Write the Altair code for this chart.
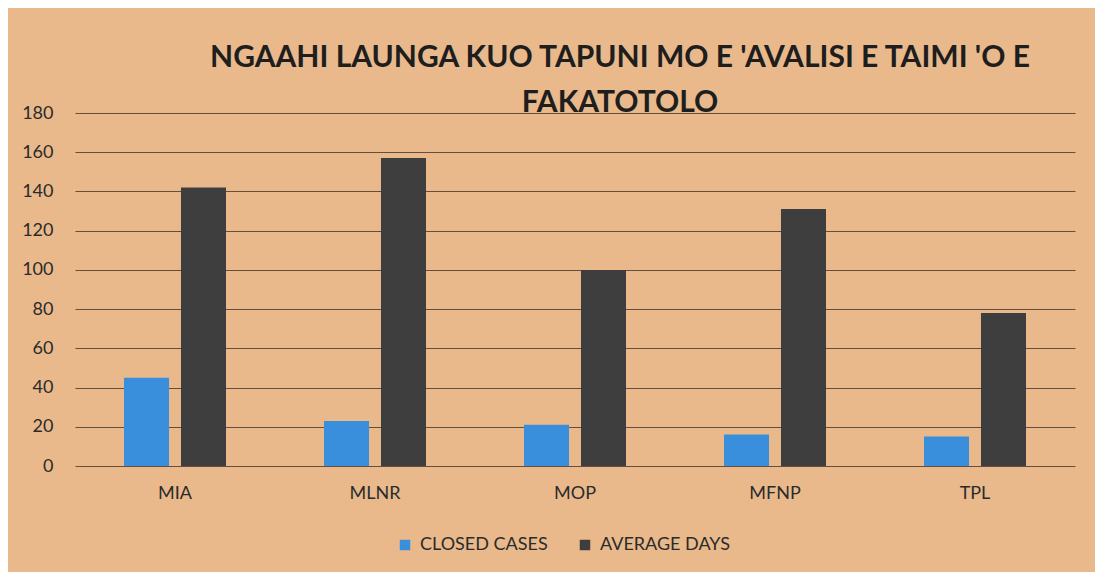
import altair as alt
import pandas as pd

categories = ["MIA", "MLNR", "MOP", "MFNP", "TPL"]
closed_cases = [45, 23, 21, 16, 15]
average_days = [142, 157, 100, 131, 78]
series_names = ["CLOSED CASES", "AVERAGE DAYS"]
y_ticks = [0, 20, 40, 60, 80, 100, 120, 140, 160, 180]

rows = []
for c, a, b in zip(categories, closed_cases, average_days):
    rows.append({"cat": c, "series": series_names[0], "value": a})
    rows.append({"cat": c, "series": series_names[1], "value": b})
df = pd.DataFrame(rows)

BG = "#E9B98C"
FONT = "Lato"

chart = alt.Chart(df).mark_bar().encode(
    x=alt.X("cat:N", sort=categories,
            scale=alt.Scale(paddingInner=0.49, paddingOuter=0.245),
            axis=alt.Axis(title=None, labelAngle=0, labelFontSize=18, labelColor="#2b2b2b",
                          labelFont=FONT, ticks=False, domain=False, labelPadding=18)),
    xOffset=alt.XOffset("series:N", sort=series_names,
                        scale=alt.Scale(paddingInner=0.21, paddingOuter=0)),
    y=alt.Y("value:Q", scale=alt.Scale(domain=[0, 180], nice=False),
            axis=alt.Axis(title=None, values=y_ticks, labelFontSize=18, labelColor="#2b2b2b",
                          labelFont=FONT, ticks=False, domain=False, labelPadding=22,
                          grid=True, gridColor="#4a3c30", gridWidth=1.2, gridOpacity=0.85)),
    color=alt.Color("series:N", sort=series_names,
                    scale=alt.Scale(domain=series_names, range=["#3A8FDC", "#3E3E3E"]),
                    legend=alt.Legend(title=None, orient="none", direction="horizontal",
                                      legendX=321, legendY=423, symbolType="square",
                                      symbolSize=110, symbolStrokeWidth=0,
                                      labelFontSize=18, labelFont=FONT, labelColor="#2b2b2b",
                                      columnPadding=28, labelOffset=6)),
).properties(
    width=1000,
    height=353,
    title=alt.TitleParams(
        text=["NGAAHI LAUNGA KUO TAPUNI MO E 'AVALISI E TAIMI 'O E", "FAKATOTOLO"],
        fontSize=30, font=FONT, fontWeight="bold", color="#1e1e1e",
        anchor="middle", dx=45, offset=-14, lineHeight=45,
    ),
    autosize=alt.AutoSizeParams(type="none"),
    padding={"left": 67, "top": 105, "right": 20, "bottom": 106},
    background=BG,
).configure_view(stroke=None)

chart.save("out.html", embed_options={"renderer": "svg", "actions": False})
